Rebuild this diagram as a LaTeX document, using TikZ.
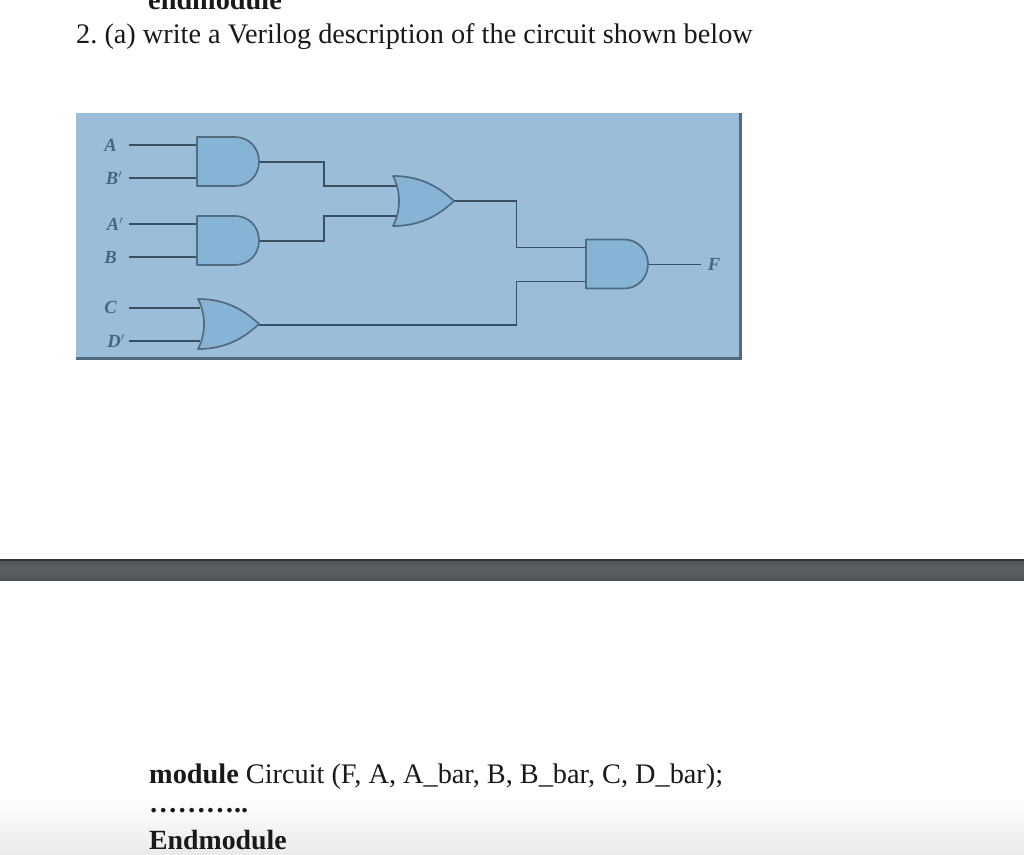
\documentclass[tikz,border=0pt]{standalone}
\usepackage{fontspec}
\setmainfont{Liberation Serif}
\definecolor{panel}{HTML}{9ABED9}
\definecolor{gatefill}{HTML}{86B4D6}
\definecolor{wire}{HTML}{3A4F60}
\definecolor{frameedge}{HTML}{536B7E}
\definecolor{lab}{HTML}{4A6579}
\definecolor{barmid}{HTML}{4D5356}
\definecolor{baredge}{HTML}{2F3436}
\tikzset{
  gateshape/.style={draw=frameedge,fill=gatefill,line width=1.7pt,line join=round},
  conn/.style={draw=wire,line width=1.5pt},
  inlab/.style={font=\fontsize{18.5}{18.5}\selectfont\bfseries\itshape,text=lab,inner sep=0pt},
  bodytext/.style={font=\fontsize{28.3}{28.3}\selectfont\frenchspacing,anchor=base west,inner sep=0pt,text=black!90},
  andgate/.pic={\path[gateshape] (0,-24.5) -- (38,-24.5) .. controls (52,-24.5) and (62,-13.5) .. (62,0) .. controls (62,13.5) and (52,24.5) .. (38,24.5) -- (0,24.5) -- cycle;},
  orgate/.pic={\path[gateshape] (0,-25) .. controls (30,-25) and (48,-12) .. (61,0) .. controls (48,12) and (30,25) .. (0,25) .. controls (8,10) and (8,-10) .. (0,-25) -- cycle;}
}
\begin{document}
\begin{tikzpicture}[x=1pt,y=-1pt]
\useasboundingbox (0,0) rectangle (1024,854);
\fill[white] (0,0) rectangle (1024,854);
\shade[top color=white,bottom color=black!8] (0,797) rectangle (1024,854);
% heading cut off by the top edge, as in the reference
\node[bodytext,font=\fontsize{28.3}{28.3}\selectfont\bfseries] (cut) at (148,9) {endmodule};
\node[bodytext] (title) at (76,43) {2. (a) write a Verilog description of the circuit shown below};
% panel
\fill[panel] (76,113) rectangle (742,359);
\draw[frameedge,line width=3pt] (740.5,113) -- (740.5,358) -- (76,358);
% gate port coordinates
\coordinate (a1i1) at (197,145); \coordinate (a1i2) at (197,178); \coordinate (a1o) at (259,162);
\coordinate (a2i1) at (197,224); \coordinate (a2i2) at (197,257); \coordinate (a2o) at (259,241);
\coordinate (o3i1) at (200,308); \coordinate (o3i2) at (200,341); \coordinate (o3o) at (259,325);
\coordinate (o1i1) at (397,186); \coordinate (o1i2) at (397,216); \coordinate (o1o) at (453,201);
\coordinate (a4i1) at (586,247.5); \coordinate (a4i2) at (586,281.5); \coordinate (a4o) at (648,264.5);
% labels
\node[inlab] (lA) at (110.5,145) {A};
\node[inlab] (lBn) at (114,178) {B$'$};
\node[inlab] (lAn) at (115,224) {A$'$};
\node[inlab] (lB) at (110.5,257) {B};
\node[inlab] (lC) at (110.5,307) {C};
\node[inlab] (lDn) at (116,341) {D$'$};
\node[inlab] (lF) at (714,264.5) {F};
% free ends
\coordinate (sA) at (129,145); \coordinate (sBn) at (129,178);
\coordinate (sAn) at (129,224); \coordinate (sB) at (129,257);
\coordinate (sC) at (129,308); \coordinate (sDn) at (129,341);
\coordinate (eF) at (701,264.5);
\coordinate (m1) at (324,162); \coordinate (m2) at (324,241); \coordinate (m3) at (516.5,201); \coordinate (m4) at (516.5,325);
% wires
\draw[conn] (sA) -- (a1i1);
\draw[conn] (sBn) -- (a1i2);
\draw[conn] (sAn) -- (a2i1);
\draw[conn] (sB) -- (a2i2);
\draw[conn] (sC) -- (o3i1);
\draw[conn] (sDn) -- (o3i2);
\draw[conn] (a1o) -- (m1) |- (o1i1);
\draw[conn] (a2o) -- (m2) |- (o1i2);
\draw[conn] (o1o) -- (m3) |- (a4i1);
\draw[conn] (o3o) -- (m4) |- (a4i2);
\draw[conn] (a4o) -- (eF);
% gates
\pic at (197,161.5) {andgate};
\pic at (197,240.5) {andgate};
\pic at (198,324) {orgate};
\pic at (393,201) {orgate};
\pic at (586,264) {andgate};
% dark bar
\shade[top color=barmid,bottom color=barmid,middle color=barmid!92!white] (0,559) rectangle (1024,580);
\fill[baredge] (0,559) rectangle (1024,561);
\fill[baredge!85!white] (0,578) rectangle (1024,580);
% code
\node[bodytext] (code) at (149,783) {\textbf{module} Circuit (F, A, A\_bar, B, B\_bar, C, D\_bar);};
\node[bodytext] (dots) at (149,812) {\textbf{………..}};
\node[bodytext,font=\fontsize{27.8}{27.8}\selectfont] (endm) at (149,849) {\textbf{Endmodule}};
\end{tikzpicture}
\end{document}
